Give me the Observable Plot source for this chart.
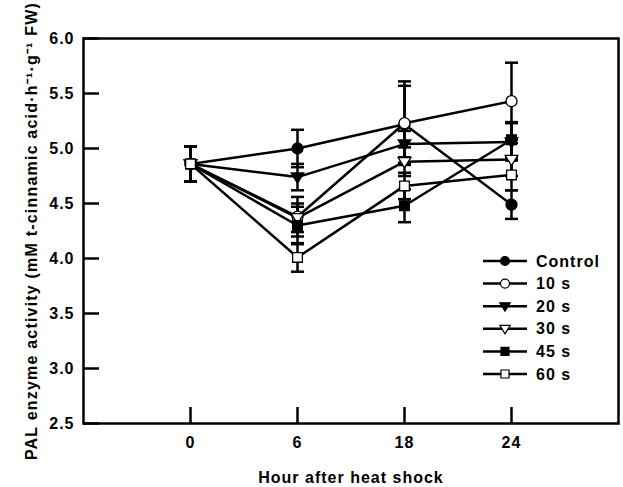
<!DOCTYPE html>
<html>
<head>
<meta charset="utf-8">
<script src="https://cdn.jsdelivr.net/npm/d3@7"></script>
<script src="https://cdn.jsdelivr.net/npm/@observablehq/plot@0.6"></script>
<style>
  html, body { margin: 0; padding: 0; background: white; }
  #wrap { position: relative; width: 623px; height: 487px; }
  #legend { position: absolute; left: 0; top: 0; pointer-events: none; }
  #wrap svg text { letter-spacing: 1px; }
  #wrap svg [aria-label="y-axis label"] text { letter-spacing: 1.2px; }
</style>
</head>
<body>
<div id="wrap"></div>
<script>
const hours = ["0", "6", "18", "24"];
const seriesNames = ["Control", "10 s", "20 s", "30 s", "45 s", "60 s"];
const yTicks = [2.5, 3.0, 3.5, 4.0, 4.5, 5.0, 5.5, 6.0];

const controlVals = [4.86, 5.00, 5.22, 4.49];
const controlSE   = [0.16, 0.17, 0.35, 0.13];
const s10Vals = [4.86, 4.38, 5.23, 5.43];
const s10SE   = [0.16, 0.18, 0.38, 0.35];
const s20Vals = [4.86, 4.74, 5.04, 5.06];
const s20SE   = [0.16, 0.12, 0.12, 0.17];
const s30Vals = [4.86, 4.37, 4.88, 4.90];
const s30SE   = [0.16, 0.13, 0.13, 0.15];
const s45Vals = [4.86, 4.30, 4.48, 5.08];
const s45SE   = [0.16, 0.17, 0.15, 0.16];
const s60Vals = [4.86, 4.01, 4.66, 4.76];
const s60SE   = [0.16, 0.13, 0.12, 0.14];

const valsList = [controlVals, s10Vals, s20Vals, s30Vals, s45Vals, s60Vals];
const seList = [controlSE, s10SE, s20SE, s30SE, s45SE, s60SE];

const rows = [];
seriesNames.forEach((s, i) => {
  hours.forEach((h, j) => {
    rows.push({series: s, hour: h, value: valsList[i][j], se: seList[i][j]});
  });
});

// custom symbols
const triDown = {
  draw(ctx, size) {
    const r = Math.sqrt(size / Math.PI);
    ctx.moveTo(-r * 1.15, -r * 0.75);
    ctx.lineTo(r * 1.15, -r * 0.75);
    ctx.lineTo(0, r * 1.1);
    ctx.closePath();
  }
};
const hline = {
  draw(ctx, size) {
    const r = Math.sqrt(size / Math.PI);
    ctx.moveTo(-r, 0);
    ctx.lineTo(r, 0);
  }
};
const symStyles = {
  "Control": {symbol: "circle", fill: "black"},
  "10 s": {symbol: "circle", fill: "white"},
  "20 s": {symbol: triDown, fill: "black"},
  "30 s": {symbol: triDown, fill: "white"},
  "45 s": {symbol: "square", fill: "black"},
  "60 s": {symbol: "square", fill: "white"}
};

const dotMarks = seriesNames.map(s => Plot.dot(rows.filter(d => d.series === s), {
  x: "hour", y: "value",
  symbol: symStyles[s].symbol,
  fill: symStyles[s].fill,
  stroke: "black", strokeWidth: 1.3, r: 5.5
}));

const chart = Plot.plot({
  width: 623, height: 487,
  marginLeft: 83, marginRight: 5, marginTop: 38, marginBottom: 64,
  x: {type: "point", domain: hours, padding: 1},
  y: {domain: [2.5, 6.0]},
  style: {fontFamily: "'Liberation Sans', Arial, sans-serif", fontWeight: "bold", fontSize: "16px", color: "black", background: "white"},
  marks: [
    Plot.axisY({ticks: yTicks, tickFormat: d => d.toFixed(1), tickSize: -16, tickPadding: 25, strokeWidth: 2.5,
      label: "PAL enzyme activity (mM t-cinnamic acid·h⁻¹·g⁻¹ FW)", labelAnchor: "center", labelOffset: 58, labelArrow: "none"}),
    Plot.axisX({ticks: hours, tickSize: -16, tickPadding: 29, strokeWidth: 2.5,
      label: "Hour after heat shock", labelAnchor: "center", labelOffset: 59, labelArrow: "none"}),
    Plot.ruleX(rows, {x: "hour", y1: d => d.value - d.se, y2: d => d.value + d.se, stroke: "black", strokeWidth: 2.5}),
    Plot.dot(rows, {x: "hour", y: d => d.value - d.se, symbol: hline, r: 6.5, stroke: "black", strokeWidth: 2.5}),
    Plot.dot(rows, {x: "hour", y: d => d.value + d.se, symbol: hline, r: 6.5, stroke: "black", strokeWidth: 2.5}),
    Plot.line(rows, {x: "hour", y: "value", z: "series", stroke: "black", strokeWidth: 2.5}),
    ...dotMarks,
    Plot.frame({stroke: "black", strokeWidth: 2.5})
  ]
});

const wrap = document.getElementById("wrap");
wrap.appendChild(chart);

// legend overlay
const leg = d3.select(wrap).append("svg")
  .attr("id", "legend").attr("width", 623).attr("height", 487)
  .style("font-family", "'Liberation Sans', Arial, sans-serif")
  .style("font-weight", "bold").style("font-size", "16px");
const legX0 = 483, legX1 = 527, legMx = 505, legTx = 536, legY0 = 261, legDy = 22.6;
const legR = 4.5;
seriesNames.forEach((s, i) => {
  const y = legY0 + i * legDy;
  const g = leg.append("g");
  g.append("line").attr("x1", legX0).attr("x2", legX1).attr("y1", y).attr("y2", y)
    .attr("stroke", "black").attr("stroke-width", 2.5);
  const st = symStyles[s];
  const symType = st.symbol === "circle" ? d3.symbolCircle : st.symbol === "square" ? d3.symbolSquare : st.symbol;
  g.append("path").attr("d", d3.symbol(symType, Math.PI * legR * legR)())
    .attr("transform", `translate(${legMx},${y})`)
    .attr("fill", st.fill).attr("stroke", "black").attr("stroke-width", 1.2);
  g.append("text").attr("x", legTx).attr("y", y).attr("dy", "0.35em").text(s);
});
</script>
</body>
</html>
